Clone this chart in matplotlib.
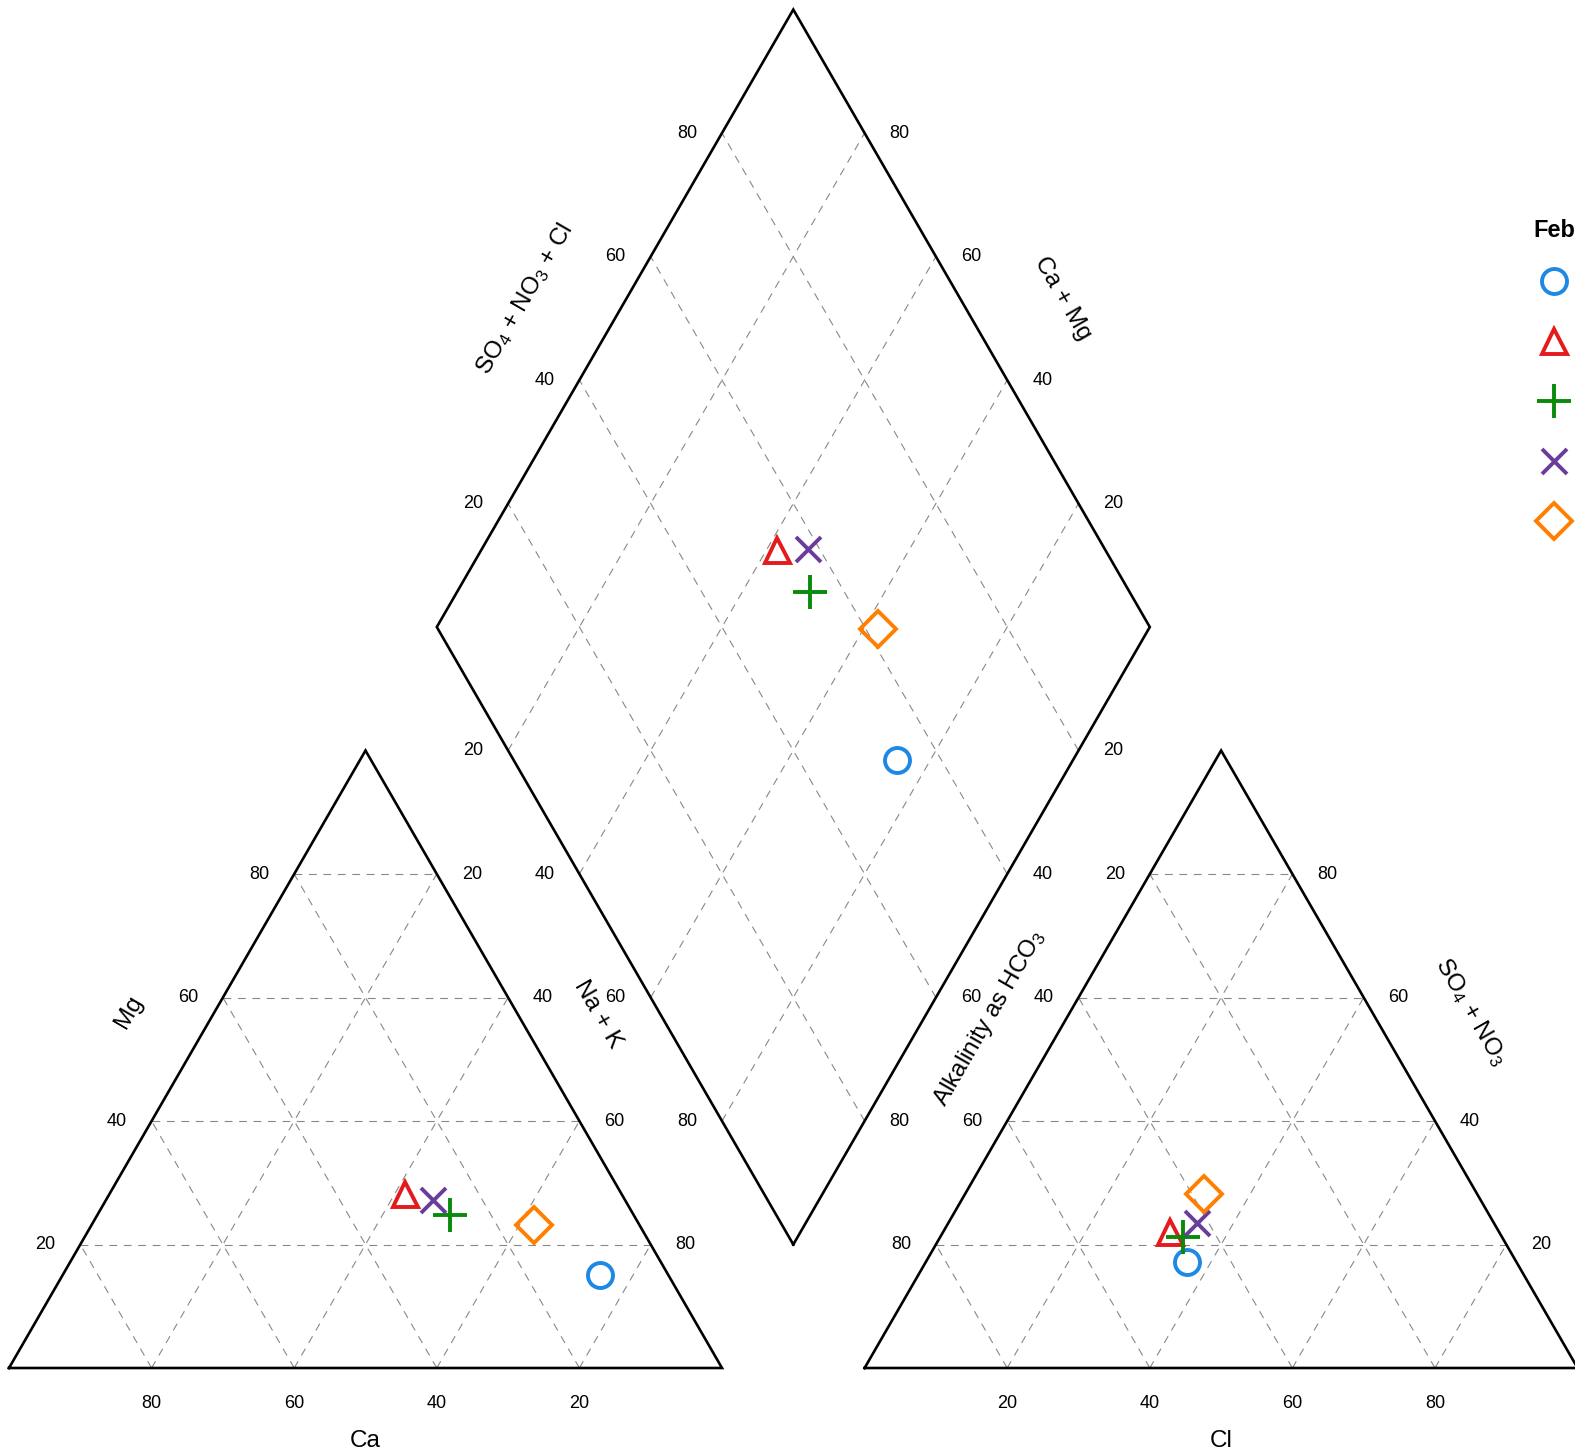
import numpy as np
import matplotlib
matplotlib.use("Agg")
from matplotlib import pyplot as plt

plt.rcParams['font.family'] = ['Liberation Sans', 'DejaVu Sans']
plt.rcParams['mathtext.fontset'] = 'custom'
plt.rcParams['mathtext.rm'] = 'Liberation Sans'
plt.rcParams['mathtext.it'] = 'Liberation Sans'

# percent of milliequivalents
samples = ['Sample 1', 'Sample 2', 'Sample 3', 'Sample 4', 'Sample 5']
ca = [9.6, 30.3, 25.7, 27.0, 14.8]
mg = [15.1, 28.2, 24.8, 27.2, 23.1]
na_k = [75.3, 41.5, 49.5, 45.8, 62.1]
cl = [36.6, 31.9, 34.0, 34.9, 33.5]
so4_no3 = [17.1, 22.0, 21.2, 23.5, 28.2]
hco3 = [46.3, 46.1, 44.8, 41.6, 38.3]

markers = ['o', '^', '+', 'x', 'D']
marker_sizes = [18, 18, 25, 18, 18]
colors = ['#1E88E5', '#E41A1C', '#0A8A0A', '#6A3D9A', '#FF7F00']
legend_title = 'February'

grid_vals = [20, 40, 60, 80]
H = np.sqrt(3) / 2
GAP = 20
X_RIGHT = 100 + GAP          # x offset of anion triangle
Y_DIAM = GAP * H             # height of diamond's bottom vertex


def tern(b, c, off=0.0):
    # b = right-corner component, c = top component
    b = np.asarray(b, float)
    c = np.asarray(c, float)
    return off + b + c / 2, c * H


def diam(cm, sc):
    cm = np.asarray(cm, float)
    sc = np.asarray(sc, float)
    return 100 + GAP / 2 - cm / 2 + sc / 2, Y_DIAM + H * (cm + sc)


fig = plt.figure(figsize=(15.75, 14.56), dpi=100)
ax = fig.add_axes([0, 0, 1, 1])
sc_px = 7.13
ax.set_xlim(-9 / sc_px, (1575 - 9) / sc_px)
ax.set_ylim(-(1456 - 1368) / sc_px, 1368 / sc_px)
ax.set_aspect('equal')
ax.axis('off')

grid_kw = dict(color='#888888', lw=0.8, ls=(0, (7, 6)), zorder=1)
edge_kw = dict(color='black', lw=1.9, zorder=2, solid_joinstyle='miter')
tick_fs = 13
title_fs = 17.5
off_t = 35 / sc_px
off_b = 36 / sc_px

# ---- triangles
for off in [0, X_RIGHT]:
    for k in grid_vals:
        # top component = k (horizontal)
        x, y = tern([0, 100 - k], [k, k], off)
        ax.plot(x, y, **grid_kw)
        # left component = k
        x, y = tern([100 - k, 0], [0, 100 - k], off)
        ax.plot(x, y, **grid_kw)
        # right component = k
        x, y = tern([k, k], [0, 100 - k], off)
        ax.plot(x, y, **grid_kw)
    x, y = tern([0, 100, 0, 0], [0, 0, 100, 0], off)
    ax.plot(x, y, **edge_kw)

# ---- diamond
for k in grid_vals:
    x, y = diam([k, k], [0, 100])
    ax.plot(x, y, **grid_kw)
    x, y = diam([0, 100], [k, k])
    ax.plot(x, y, **grid_kw)
x, y = diam([0, 100, 100, 0, 0], [0, 0, 100, 100, 0])
ax.plot(x, y, **edge_kw)

# ---- tick labels
for k in grid_vals:
    # cation triangle
    x, y = tern(100 - k, 0)
    ax.text(x, y - off_b, str(k), ha='center', va='center', fontsize=tick_fs)
    x, y = tern(0, k)
    ax.text(x - off_t, y, str(k), ha='center', va='center', fontsize=tick_fs)
    x, y = tern(k, 100 - k)
    ax.text(x + off_t, y, str(k), ha='center', va='center', fontsize=tick_fs)
    # anion triangle
    x, y = tern(k, 0, X_RIGHT)
    ax.text(x, y - off_b, str(k), ha='center', va='center', fontsize=tick_fs)
    x, y = tern(0, 100 - k, X_RIGHT)
    ax.text(x - off_t, y, str(k), ha='center', va='center', fontsize=tick_fs)
    x, y = tern(100 - k, k, X_RIGHT)
    ax.text(x + off_t, y, str(k), ha='center', va='center', fontsize=tick_fs)
    # diamond
    x, y = diam(100, k)
    ax.text(x - off_t, y, str(k), ha='center', va='center', fontsize=tick_fs)
    x, y = diam(k, 100)
    ax.text(x + off_t, y, str(k), ha='center', va='center', fontsize=tick_fs)
    x, y = diam(100 - k, 0)
    ax.text(x - off_t, y, str(k), ha='center', va='center', fontsize=tick_fs)
    x, y = diam(0, 100 - k)
    ax.text(x + off_t, y, str(k), ha='center', va='center', fontsize=tick_fs)

# ---- axis titles
ax.text(50, -10.3, 'Ca', ha='center', va='center', fontsize=title_fs)
ax.text(170, -10.3, 'Cl', ha='center', va='center', fontsize=title_fs)
ax.text(16.8, 50.0, 'Mg', ha='center', va='center', fontsize=title_fs, rotation=60)
ax.text(82.6, 49.6, 'Na + K', ha='center', va='center', fontsize=title_fs, rotation=-60)
ax.text(205.1, 50.0, r'SO$_4$ + NO$_3$', ha='center', va='center',
        fontsize=title_fs, rotation=-60)
ax.text(137.5, 49.1, r'Alkalinity as HCO$_3$', ha='center', va='center',
        fontsize=title_fs, rotation=60)
ax.text(72.3, 150.0, r'SO$_4$ + NO$_3$ + Cl', ha='center', va='center',
        fontsize=title_fs, rotation=60)
ax.text(147.7, 150.0, 'Ca + Mg', ha='center', va='center', fontsize=title_fs, rotation=-60)

# ---- samples
handles = []
for i in range(len(samples)):
    kw = dict(ls='none', marker=markers[i], ms=marker_sizes[i], mfc='none',
              mec=colors[i], mew=2.8, zorder=5)
    x1, y1 = tern(na_k[i], mg[i])
    x2, y2 = tern(cl[i], so4_no3[i], X_RIGHT)
    x3, y3 = diam(ca[i] + mg[i], so4_no3[i] + cl[i])
    h, = ax.plot([x1, x2, x3], [y1, y2, y3], label=samples[i], **kw)
    handles.append(h)

leg = ax.legend(handles=handles, loc='upper left', bbox_to_anchor=(0.9643, 0.8595),
                bbox_transform=fig.transFigure, frameon=False, fontsize=13,
                title=legend_title, title_fontproperties={'weight': 'bold', 'size': 17},
                alignment='left', labelspacing=1.55, handlelength=2.3,
                handleheight=2.35, handletextpad=0.8, borderpad=0.3)

fig.savefig('out.png', dpi=100)
